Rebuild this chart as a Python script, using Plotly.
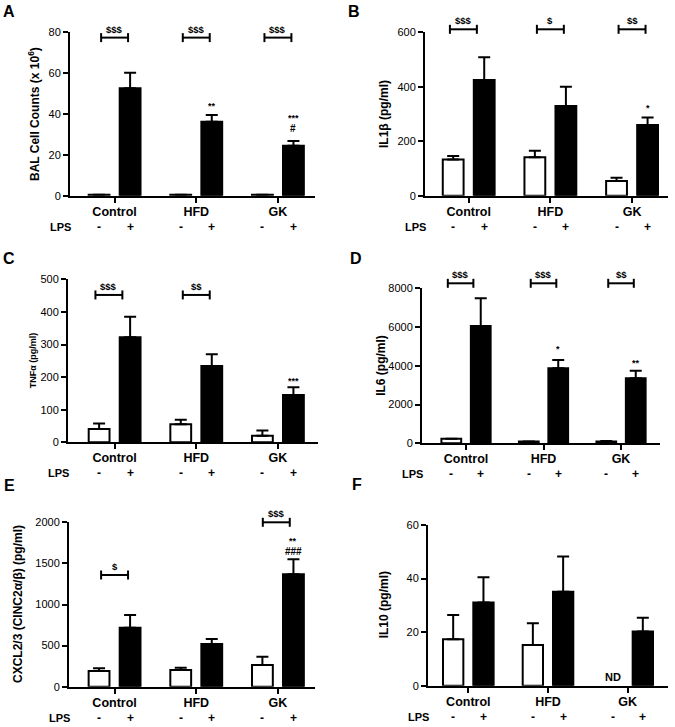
import plotly.graph_objects as go

W, H = 675, 727
FONT = "Liberation Sans, Arial, Helvetica, sans-serif"

groups = ["Control", "HFD", "GK"]
lps_signs = ["-", "+"]

# ---- data (mean and SEM) ----
a_neg = [0.5, 0.5, 0.5]
a_neg_sem = [0, 0, 0]
a_pos = [52.6, 36.2, 24.5]
a_pos_sem = [7.6, 3.3, 2.3]

b_neg = [133, 141, 54]
b_neg_sem = [13, 24, 12]
b_pos = [425, 329, 260]
b_pos_sem = [83, 71, 27]

c_neg = [41, 55, 20]
c_neg_sem = [17, 14, 16]
c_pos = [322, 234, 145]
c_pos_sem = [63, 36, 24]

d_neg = [240, 90, 90]
d_neg_sem = [0, 0, 30]
d_pos = [6056, 3871, 3355]
d_pos_sem = [1428, 430, 395]

e_neg = [191, 203, 264]
e_neg_sem = [32, 28, 101]
e_pos = [718, 519, 1367]
e_pos_sem = [154, 61, 183]

f_neg = [17.3, 15.2, None]
f_neg_sem = [9.1, 8.1, None]
f_pos = [31.1, 35.1, 20.2]
f_pos_sem = [9.4, 13.1, 5.2]

# brackets: (group index, y value, label, x shift in group units)
a_brackets = [(0, 77.4, "$$$", 0), (1, 77.4, "$$$", 0), (2, 77.4, "$$$", 0)]
b_brackets = [(0, 611, "$$$", -0.065), (1, 611, "$", 0), (2, 611, "$$", 0)]
c_brackets = [(0, 452, "$$$", -0.07), (1, 452, "$$", 0)]
d_brackets = [(0, 8258, "$$$", -0.07), (1, 8258, "$$$", 0), (2, 8258, "$$", 0)]
e_brackets = [(0, 1359, "$", 0), (2, 2000, "$$$", -0.02)]
f_brackets = []

# significance marks above LPS+ bars: (group index, y value, label)
a_marks = [(1, 43.9, "**"), (2, 37.8, "***"), (2, 32.8, "#")]
b_marks = [(2, 321, "*")]
c_marks = [(2, 189, "***")]
d_marks = [(1, 4851, "*"), (2, 4163, "**")]
e_marks = [(2, 1777, "**"), (2, 1643, "###")]
f_marks = []

a_ticks = [0, 20, 40, 60, 80]
b_ticks = [0, 200, 400, 600]
c_ticks = [0, 100, 200, 300, 400, 500]
d_ticks = [0, 2000, 4000, 6000, 8000]
e_ticks = [0, 500, 1000, 1500, 2000]
f_ticks = [0, 20, 40, 60]

titles = [
    "BAL Cell Counts (x 10<sup>6</sup>)",
    "IL1β (pg/ml)",
    "TNFα (pg/ml)",
    "IL6 (pg/ml)",
    "CXCL2/3 (CINC2α/β) (pg/ml)",
    "IL10 (pg/ml)",
]
letters = ["A", "B", "C", "D", "E", "F"]

# ---- layout geometry (pixels) ----
panels = [
    dict(neg=a_neg, neg_sem=a_neg_sem, pos=a_pos, pos_sem=a_pos_sem, ticks=a_ticks,
         br=a_brackets, marks=a_marks, px=(70, 315, 32.3, 195.7), xr=(-0.546, 2.454),
         tshift=-36, tsize=12, letter=(9, 12)),
    dict(neg=b_neg, neg_sem=b_neg_sem, pos=b_pos, pos_sem=b_pos_sem, ticks=b_ticks,
         br=b_brackets, marks=b_marks, px=(425, 668, 32.3, 195.7), xr=(-0.535, 2.44),
         tshift=-41, tsize=12, letter=(354, 12)),
    dict(neg=c_neg, neg_sem=c_neg_sem, pos=c_pos, pos_sem=c_pos_sem, ticks=c_ticks,
         br=c_brackets, marks=c_marks, px=(68, 318, 279.3, 442.3), xr=(-0.571, 2.491),
         tshift=-35.5, tsize=9, letter=(9, 258.5)),
    dict(neg=d_neg, neg_sem=d_neg_sem, pos=d_pos, pos_sem=d_pos_sem, ticks=d_ticks,
         br=d_brackets, marks=d_marks, px=(422, 660, 288.3, 443.3), xr=(-0.568, 2.503),
         tshift=-41, tsize=12, letter=(356, 258)),
    dict(neg=e_neg, neg_sem=e_neg_sem, pos=e_pos, pos_sem=e_pos_sem, ticks=e_ticks,
         br=e_brackets, marks=e_marks, px=(69, 315, 522.3, 686.7), xr=(-0.558, 2.454),
         tshift=-51.5, tsize=12, letter=(9, 485)),
    dict(neg=f_neg, neg_sem=f_neg_sem, pos=f_pos, pos_sem=f_pos_sem, ticks=f_ticks,
         br=f_brackets, marks=f_marks, px=(428, 668, 525, 685.7), xr=(-0.506, 2.506),
         tshift=-44, tsize=12, letter=(357, 484)),
]

OFF = 0.19
BW = 0.255

fig = go.Figure()
shapes = []
annotations = []
layout_axes = {}

for i, p in enumerate(panels):
    n = i + 1
    xa = "x" if n == 1 else f"x{n}"
    ya = "y" if n == 1 else f"y{n}"
    xname = "xaxis" if n == 1 else f"xaxis{n}"
    yname = "yaxis" if n == 1 else f"yaxis{n}"
    x0p, x1p, ytp, ybp = p["px"]
    ymax = p["ticks"][-1]
    r0, r1 = p["xr"]
    yd0, yd1 = 1 - ybp / H, 1 - ytp / H

    xs_neg = [g - OFF for g in range(len(groups))]
    xs_pos = [g + OFF for g in range(len(groups))]

    fig.add_trace(go.Bar(
        x=xs_neg, y=p["neg"], width=BW, xaxis=xa, yaxis=ya,
        marker=dict(color="white", line=dict(color="black", width=2)),
        error_y=dict(type="data", symmetric=False, array=p["neg_sem"],
                     arrayminus=[0] * 3, color="black", thickness=2, width=6),
        showlegend=False, hoverinfo="skip"))
    fig.add_trace(go.Bar(
        x=xs_pos, y=p["pos"], width=BW, xaxis=xa, yaxis=ya,
        marker=dict(color="black", line=dict(color="black", width=2)),
        error_y=dict(type="data", symmetric=False, array=p["pos_sem"],
                     arrayminus=[0] * 3, color="black", thickness=2, width=6),
        showlegend=False, hoverinfo="skip"))

    layout_axes[xname] = dict(
        domain=[x0p / W, x1p / W], anchor=ya, range=[r0, r1], automargin=False,
        showline=True, linewidth=2, linecolor="black", showgrid=False, zeroline=False,
        ticks="outside", ticklen=5, tickwidth=2, tickcolor="black", ticklabelstandoff=-2,
        tickvals=list(range(len(groups))), ticktext=[f"<b>{g}</b>" for g in groups],
        tickfont=dict(family=FONT, size=12.5, color="black"), fixedrange=True)
    layout_axes[yname] = dict(
        domain=[yd0, yd1], anchor=xa, range=[0, ymax], automargin=False,
        showline=True, linewidth=2, linecolor="black", showgrid=False, zeroline=False,
        ticks="outside", ticklen=5, tickwidth=2, tickcolor="black",
        tickvals=p["ticks"], ticktext=[str(t) for t in p["ticks"]],
        tickfont=dict(family=FONT, size=11, color="black"), fixedrange=True)

    xd = f"{xa} domain"
    yd = f"{ya} domain"

    def xdom(v):
        return (v - r0) / (r1 - r0)

    def ypaper(v):
        return yd0 + (v / ymax) * (yd1 - yd0)

    # brackets
    for g, yv, lab, sh in p["br"]:
        xl = xdom(g + sh - 0.165)
        xr_ = xdom(g + sh + 0.165)
        yy = yv / ymax
        shapes.append(dict(type="line", xref=xd, yref=yd, x0=xl, x1=xr_, y0=yy, y1=yy,
                           line=dict(color="black", width=2)))
        for xe in (xl, xr_):
            shapes.append(dict(type="line", xref=xd, yref=yd, ysizemode="pixel", yanchor=yy,
                               x0=xe, x1=xe, y0=-4.5, y1=4.5,
                               line=dict(color="black", width=2)))
        annotations.append(dict(xref=xd, yref="paper", x=xdom(g + sh), y=ypaper(yv),
                                text=f"<b>{lab}</b>", xanchor="center",
                                showarrow=False, yanchor="bottom", yshift=1,
                                font=dict(family=FONT, size=9.5, color="black")))

    # significance marks
    for g, yv, lab in p["marks"]:
        annotations.append(dict(xref=xd, yref="paper", x=xdom(g + OFF), y=ypaper(yv),
                                text=f"<b>{lab}</b>", xanchor="center",
                                showarrow=False, yanchor="middle",
                                font=dict(family=FONT, size=9 if "*" in lab else 10, color="black")))

    # LPS row
    annotations.append(dict(xref=xd, yref=yd, x=0, y=0, xanchor="right", yanchor="middle",
                            xshift=3, yshift=-31, text="<b>LPS</b>", showarrow=False,
                            font=dict(family=FONT, size=11, color="black")))
    for g in range(len(groups)):
        for k, s in enumerate(lps_signs):
            xv = g - OFF if k == 0 else g + OFF
            annotations.append(dict(xref=xd, yref=yd, x=xdom(xv), y=0, xanchor="center",
                                    yanchor="middle", yshift=-31,
                                    text=f"<b>{s}</b>", showarrow=False,
                                    font=dict(family=FONT, size=12, color="black")))

    # ND label for missing value
    for g in range(len(groups)):
        if p["neg"][g] is None:
            annotations.append(dict(xref=xd, yref=yd, x=xdom(g - OFF), y=0, xanchor="center",
                                    yanchor="bottom", yshift=1,
                                    text="<b>ND</b>", showarrow=False,
                                    font=dict(family=FONT, size=11, color="black")))

    # y-axis title
    annotations.append(dict(xref=xd, yref=yd, x=0, y=0.5, xshift=p["tshift"], textangle=-90,
                            xanchor="center", yanchor="middle", text=f"<b>{titles[i]}</b>",
                            showarrow=False, font=dict(family=FONT, size=p["tsize"], color="black")))

    # panel letter
    lx, ly = p["letter"]
    annotations.append(dict(xref="paper", yref="paper", x=lx / W, y=1 - ly / H,
                            xanchor="center", yanchor="middle", text=f"<b>{letters[i]}</b>",
                            showarrow=False, font=dict(family=FONT, size=16, color="black")))

fig.update_layout(
    width=W, height=H, margin=dict(l=0, r=0, t=0, b=0, autoexpand=False),
    paper_bgcolor="white", plot_bgcolor="white",
    barmode="overlay", showlegend=False,
    shapes=shapes, annotations=annotations,
    **layout_axes)

fig.write_html("out.html", config={"displayModeBar": False},
               post_script="document.body.style.margin='0px';")
